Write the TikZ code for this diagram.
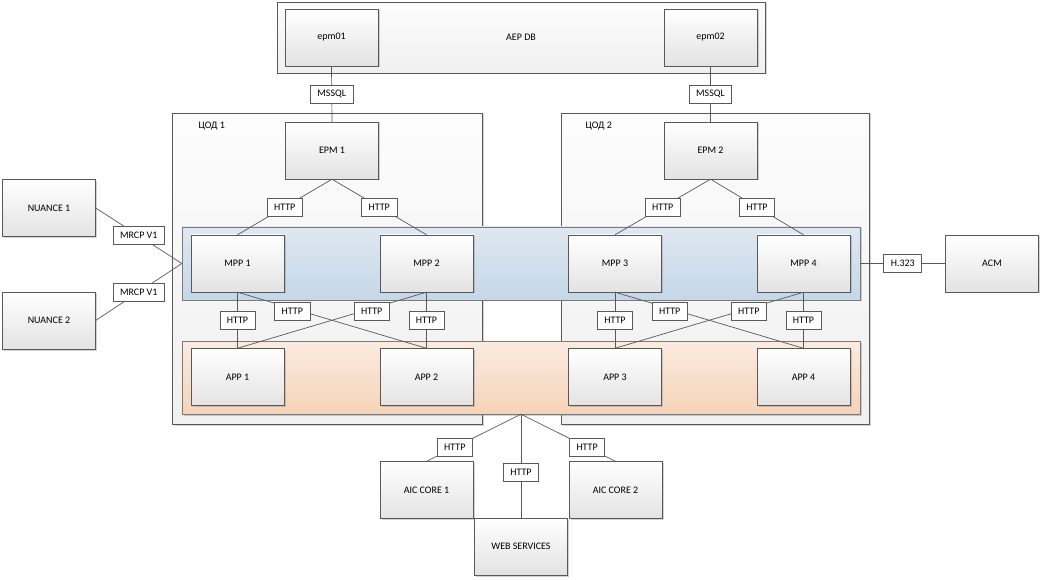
\documentclass[tikz,border=0pt]{standalone}
\usepackage{fontspec}
\setmainfont{Carlito}
\usetikzlibrary{shadows}
\definecolor{linegray}{HTML}{595959}
\definecolor{bluetop}{HTML}{DFE8F1}
\definecolor{bluebot}{HTML}{C4D7E8}
\definecolor{orangetop}{HTML}{FBEBE0}
\definecolor{orangebot}{HTML}{F5D3B8}
\tikzset{
  box/.style={draw=linegray,top color=white,bottom color=black!11,minimum width=93pt,minimum height=57pt,inner sep=0pt,
    drop shadow={shadow xshift=1.5pt,shadow yshift=-1.5pt,opacity=0.35}},
  zone/.style={draw=linegray,top color=black!1,bottom color=black!6,inner sep=0pt,
    drop shadow={shadow xshift=1.5pt,shadow yshift=-1.5pt,opacity=0.35}},
  band/.style={draw=linegray!80,inner sep=0pt,minimum width=678pt,minimum height=73pt,
    drop shadow={shadow xshift=1.5pt,shadow yshift=-1.5pt,opacity=0.35}},
  proto/.style={draw=linegray,fill=white,inner xsep=7pt,inner ysep=0pt,minimum height=18pt},
  link/.style={draw=linegray,line width=0.7pt}
}
\begin{document}
\begin{tikzpicture}[x=1pt,y=-1pt,font=\fontsize{10}{12}\selectfont]
\useasboundingbox (0,0) rectangle (1045,580);
\node[zone,minimum width=488pt,minimum height=71pt] (aepdb) at (521,37.5) {AEP DB};
\node[box] (epm01) at (331.5,37.5) {epm01};
\node[box] (epm02) at (710.5,37.5) {epm02};
\node[zone,minimum width=310pt,minimum height=311pt] (cod1) at (327,268.5) {};
\node[zone,minimum width=308pt,minimum height=311pt] (cod2) at (715,268.5) {};
\node[anchor=west] (cod1title) at (195,126) {ЦОД 1};
\node[anchor=west] (cod2title) at (582,126) {ЦОД 2};
\node[box] (epm1) at (332,150.5) {EPM 1};
\node[box] (epm2) at (710.5,150.5) {EPM 2};
\node[band,top color=bluetop,bottom color=bluebot] (mppband) at (521,263.5) {};
\node[band,top color=orangetop,bottom color=orangebot] (appband) at (521,377.5) {};
\node[box] (mpp1) at (237.5,263.5) {MPP 1};
\node[box] (mpp2) at (426.5,263.5) {MPP 2};
\node[box] (mpp3) at (615,263.5) {MPP 3};
\node[box] (mpp4) at (803.5,263.5) {MPP 4};
\node[box] (app1) at (237.5,377) {APP 1};
\node[box] (app2) at (426.5,377) {APP 2};
\node[box] (app3) at (615,377) {APP 3};
\node[box] (app4) at (803.5,377) {APP 4};
\node[box] (nuance1) at (49,208) {NUANCE 1};
\node[box] (nuance2) at (49,320.5) {NUANCE 2};
\node[box] (acm) at (992,263.5) {ACM};
\node[box] (aic1) at (426.5,490) {AIC CORE 1};
\node[box] (aic2) at (615.5,490) {AIC CORE 2};
\node[box] (websrv) at (521,546.5) {WEB SERVICES};
\coordinate (hub) at (appband.south);
\draw[link] (epm01.south) -- node[proto] {MSSQL} (epm1.north);
\draw[link] (epm02.south) -- node[proto] {MSSQL} (epm2.north);
\draw[link] (epm1.south) -- node[proto] {HTTP} (mpp1.north);
\draw[link] (epm1.south) -- node[proto] {HTTP} (mpp2.north);
\draw[link] (epm2.south) -- node[proto] {HTTP} (mpp3.north);
\draw[link] (epm2.south) -- node[proto] {HTTP} (mpp4.north);
\draw[link] (mpp1.south) -- node[proto] {HTTP} (app1.north);
\draw[link] (mpp2.south) -- node[proto] {HTTP} (app2.north);
\draw[link] (mpp3.south) -- node[proto] {HTTP} (app3.north);
\draw[link] (mpp4.south) -- node[proto] {HTTP} (app4.north);
\draw[link] (mpp1.south) -- node[proto,pos=0.29,yshift=-3pt] {HTTP} (app2.north);
\draw[link] (mpp2.south) -- node[proto,pos=0.29,yshift=-3pt] {HTTP} (app1.north);
\draw[link] (mpp3.south) -- node[proto,pos=0.29,yshift=-3pt] {HTTP} (app4.north);
\draw[link] (mpp4.south) -- node[proto,pos=0.29,yshift=-3pt] {HTTP} (app3.north);
\draw[link] (nuance1.east) -- node[proto] {MRCP V1} (mppband.west);
\draw[link] (nuance2.east) -- node[proto] {MRCP V1} (mppband.west);
\draw[link] (mppband.east) -- node[proto] {H.323} (acm.west);
\draw[link] (hub) -- node[proto,pos=0.7] {HTTP} (aic1.north);
\draw[link] (hub) -- node[proto,pos=0.7] {HTTP} (aic2.north);
\draw[link] (hub) -- node[proto,pos=0.56] {HTTP} (websrv.north);
\end{tikzpicture}
\end{document}
